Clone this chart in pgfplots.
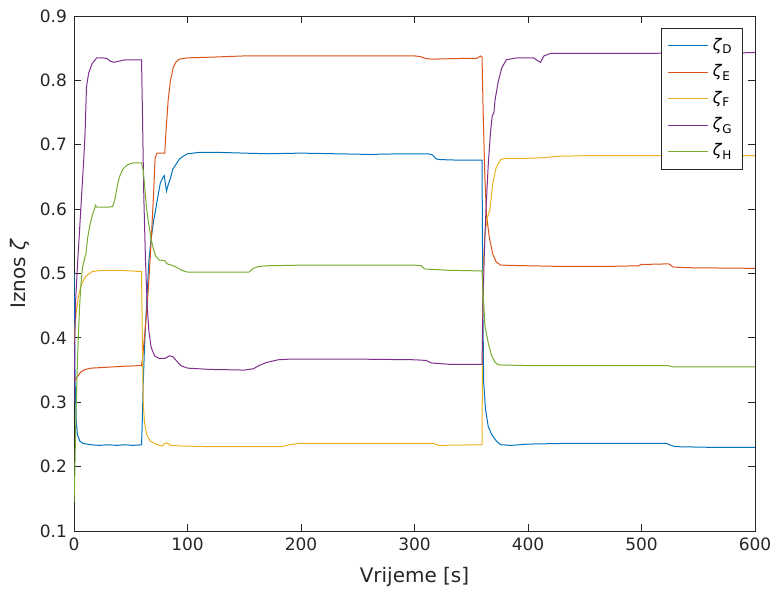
\documentclass[border=0pt]{standalone}
\usepackage{fontspec}
\setmainfont{DejaVu Sans}
\usepackage{pgfplots}
\pgfplotsset{compat=1.18}
\definecolor{cD}{rgb}{0,0.447,0.741}
\definecolor{cE}{rgb}{0.85,0.325,0.098}
\definecolor{cF}{rgb}{0.929,0.694,0.125}
\definecolor{cG}{rgb}{0.494,0.184,0.556}
\definecolor{cH}{rgb}{0.466,0.674,0.188}
\definecolor{axc}{rgb}{0.15,0.15,0.15}
\begin{document}
\begin{tikzpicture}
\begin{axis}[
  scale only axis, width=340.5pt, height=257.5pt,
  at={(0,0)}, anchor=south west,
  xmin=0, xmax=600, ymin=0.1, ymax=0.9,
  xtick={0,100,...,600}, ytick={0.1,0.2,...,0.9},
  /pgf/number format/assume math mode=true,
  yticklabel style={/pgf/number format/fixed,/pgf/number format/precision=1,/pgf/number format/fixed zerofill},
  tick align=inside, tick pos=both, major tick length=3.5pt,
  axis line style={axc, line width=0.4pt},
  every tick/.style={axc, line width=0.4pt},
  ticklabel style={font=\fontsize{8.5}{10}\selectfont, text=axc},
  xlabel={Vrijeme [s]}, ylabel={Iznos \textit{ζ}},
  label style={font=\fontsize{10}{12}\selectfont, text=axc},
  xlabel style={at={(axis description cs:0.5,0)}, anchor=center, yshift=-23pt},
  ylabel style={at={(axis description cs:-0.079,0.5)}, anchor=center, rotate=0},
  legend style={at={(1,1)}, anchor=north east, xshift=-6pt, yshift=-6pt,
    font=\fontsize{8}{10}\selectfont, draw=axc, line width=0.4pt, row sep=1.6pt, inner xsep=3pt, inner ysep=3pt},
  legend cell align=left,
  legend image code/.code={\draw[#1, draw=., line width=0.5pt] (0pt,0pt) -- (20pt,0pt);},
  every axis plot/.append style={line width=0.5pt},
]
\addplot[color=cD] coordinates {
(0,0.50)(0.5,0.42)(1,0.33)(2,0.27)(3,0.25)(5,0.24)(8,0.236)(15,0.234)(22,0.233)(30,0.234)(38,0.233)(45,0.234)(52,0.233)(59.5,0.234)
(60,0.26)(61,0.33)(62,0.38)(63,0.42)(64.5,0.47)(66,0.52)(68,0.555)(70,0.58)(72,0.60)(74,0.62)(76,0.64)(78,0.648)(79.5,0.652)(80.5,0.64)(81.5,0.628)(83,0.638)(85,0.648)(87,0.662)(90,0.670)(93,0.678)(96,0.682)(100,0.686)
(110,0.688)(130,0.688)(150,0.687)(170,0.686)(200,0.687)(230,0.686)(260,0.685)(290,0.686)(312,0.686)(316,0.684)(319,0.678)(322,0.677)(340,0.676)(359.5,0.676)
(360.2,0.45)(361,0.33)(362.5,0.29)(365,0.262)(368,0.25)(372,0.24)(376,0.234)(385,0.233)(400,0.235)(430,0.236)(460,0.236)(490,0.236)(522,0.236)(526,0.233)(530,0.231)(560,0.230)(600,0.230)
};
\addlegendentry{\textit{ζ}\textsubscript{D}}
\addplot[color=cE] coordinates {
(0,0.33)(1,0.335)(3,0.34)(6,0.347)(10,0.351)(15,0.353)(25,0.354)(35,0.355)(45,0.356)(59.5,0.357)
(60.5,0.37)(62,0.40)(64,0.44)(66,0.49)(68,0.55)(70,0.62)(71.5,0.68)(73,0.687)(80,0.687)(81,0.72)(83,0.77)(85,0.80)(87.5,0.82)(90,0.829)(93,0.833)(100,0.835)
(120,0.836)(150,0.838)(200,0.838)(250,0.838)(300,0.838)(305,0.837)(310,0.834)(315,0.833)(340,0.834)(355,0.834)(358,0.838)(359.5,0.836)
(360.5,0.75)(362,0.65)(363.5,0.59)(366,0.555)(369,0.53)(372,0.518)(376,0.513)(400,0.512)(430,0.511)(470,0.511)(497,0.512)(500,0.514)(524,0.515)(528,0.51)(540,0.509)(600,0.508)
};
\addlegendentry{\textit{ζ}\textsubscript{E}}
\addplot[color=cF] coordinates {
(0,0.39)(1,0.42)(2,0.44)(4,0.465)(6,0.48)(9,0.492)(12,0.498)(16,0.503)(25,0.505)(40,0.505)(50,0.504)(59.5,0.503)
(60.2,0.40)(61,0.30)(62,0.27)(64,0.25)(67,0.24)(72,0.235)(78,0.232)(80,0.236)(82,0.237)(85,0.233)(95,0.232)(120,0.231)(150,0.231)(183,0.231)(190,0.234)(198,0.236)(250,0.236)(300,0.236)(317,0.236)(321,0.233)(359.5,0.234)
(360.3,0.5)(362,0.56)(364,0.585)(366.5,0.60)(369,0.64)(372,0.665)(376,0.677)(380,0.679)(400,0.679)(415,0.680)(425,0.682)(450,0.683)(500,0.683)(600,0.683)
};
\addlegendentry{\textit{ζ}\textsubscript{F}}
\addplot[color=cG] coordinates {
(0,0.30)(0.7,0.40)(1.5,0.46)(3,0.51)(5,0.57)(7,0.63)(9,0.69)(9.8,0.72)(11,0.79)(13,0.812)(16,0.826)(20,0.835)(25,0.835)(29,0.834)(32,0.830)(35,0.828)(40,0.830)(45,0.832)(59.5,0.832)
(60.3,0.75)(61.5,0.62)(63,0.52)(64.5,0.45)(66,0.41)(68,0.385)(71,0.372)(75,0.368)(80,0.368)(84,0.372)(87,0.371)(90,0.365)(94,0.357)(100,0.353)(120,0.351)(150,0.350)(158,0.352)(163,0.357)(170,0.362)(180,0.366)(190,0.367)(250,0.367)(300,0.366)(310,0.365)(315,0.361)(330,0.359)(359.5,0.359)
(360.3,0.45)(361.5,0.53)(363,0.60)(365,0.67)(367,0.72)(368.5,0.745)(370,0.75)(371,0.77)(374,0.80)(377,0.82)(381,0.832)(390,0.835)(405,0.835)(409,0.830)(411,0.828)(414,0.838)(420,0.842)(500,0.842)(600,0.843)
};
\addlegendentry{\textit{ζ}\textsubscript{G}}
\addplot[color=cH] coordinates {
(0,0.145)(0.5,0.17)(1,0.22)(2,0.30)(3,0.36)(4,0.41)(5,0.45)(6,0.48)(7.5,0.51)(9,0.52)(9.8,0.527)(10.5,0.53)(12,0.555)(14,0.575)(16,0.59)(18,0.60)(19,0.606)(20,0.603)(25,0.603)(30,0.603)(34,0.604)(36,0.615)(38,0.635)(40,0.65)(43,0.662)(47,0.669)(52,0.672)(59.5,0.672)
(61,0.66)(62.5,0.63)(64,0.60)(66,0.575)(68,0.553)(70,0.538)(72,0.527)(75,0.521)(80,0.520)(82,0.515)(86,0.513)(90,0.510)(95,0.505)(100,0.502)(130,0.502)(154,0.502)(158,0.508)(163,0.511)(170,0.512)(200,0.513)(250,0.513)(300,0.513)(306,0.512)(309,0.507)(330,0.505)(359.5,0.504)
(360.5,0.47)(362,0.42)(365,0.392)(368,0.372)(371,0.362)(374,0.358)(400,0.357)(450,0.357)(523,0.357)(528,0.355)(600,0.355)
};
\addlegendentry{\textit{ζ}\textsubscript{H}}
\end{axis}
\pgfresetboundingbox
\path (-37pt,-29pt) rectangle (350.5pt,265.5pt);
\end{tikzpicture}
\end{document}
